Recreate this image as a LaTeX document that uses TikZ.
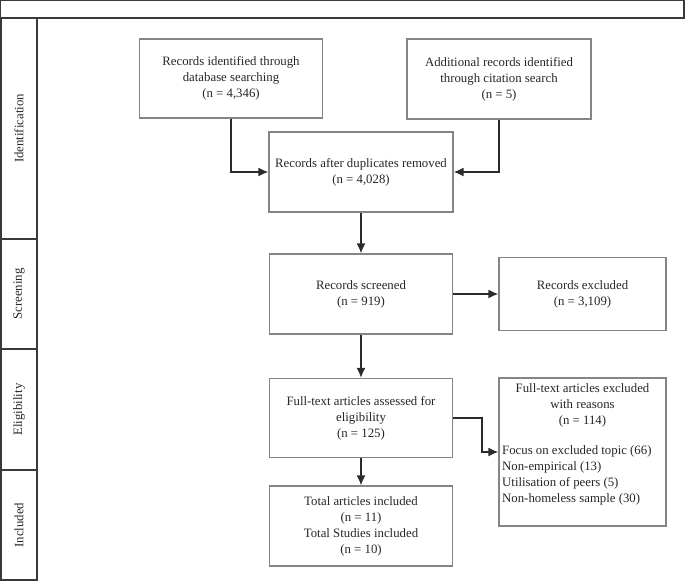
\documentclass[tikz,border=0pt]{standalone}
\usepackage{fontspec}
\setmainfont{Liberation Serif}
\usetikzlibrary{arrows.meta}
\definecolor{boxline}{HTML}{858585}
\definecolor{arrline}{HTML}{2B2B2B}
\definecolor{frameline}{HTML}{3A3A3A}
\tikzset{
  every node/.style={font=\fontsize{12.8}{16}\selectfont, text=black!85},
  flowbox/.style={draw=boxline, line width=1.1pt, rectangle, align=center, inner sep=2pt},
  section/.style={draw=frameline, line width=1.2pt, rectangle, minimum height=36pt, inner sep=0pt, rotate=90},
  arr/.style={draw=arrline, line width=1.8pt, -{Latex[length=10pt,width=9pt]}},
}
\begin{document}
\begin{tikzpicture}[x=1pt,y=-1pt]
\useasboundingbox (0,0) rectangle (685,582);
% top bar
\draw[frameline, line width=1.2pt] (0.6,0.6) rectangle (684,18);
% section column
\node[section, minimum width=221pt] (sid) at (19,128.5) {Identification};
\node[section, minimum width=110pt] (sscr) at (19,294) {Screening};
\node[section, minimum width=121pt] (sel) at (19,409.5) {Eligibility};
\node[section, minimum width=110pt] (sinc) at (19,525) {Included};
% boxes
\node[flowbox, minimum width=183pt, minimum height=79pt] (db) at (231,78.5) {Records identified through\\database searching\\(n = 4,346)};
\node[flowbox, minimum width=184pt, minimum height=80pt] (cit) at (499,79) {Additional records identified\\through citation search\\(n = 5)};
\node[flowbox, minimum width=184pt, minimum height=80pt] (dup) at (361,172) {Records after duplicates removed\\(n = 4,028)};
\node[flowbox, minimum width=183pt, minimum height=80pt] (scr) at (361,294) {Records screened\\(n = 919)};
\node[flowbox, minimum width=167pt, minimum height=73pt] (exc) at (582.5,294) {Records excluded\\(n = 3,109)};
\node[flowbox, minimum width=183pt, minimum height=79pt] (ft) at (361,418) {Full-text articles assessed for\\eligibility\\(n = 125)};
\node[flowbox, minimum width=183pt, minimum height=80pt] (tot) at (361,526) {Total articles included\\(n = 11)\\Total Studies included\\(n = 10)};
\node[flowbox, minimum width=167pt, minimum height=148pt] (rea) at (582.5,452) {};
\node[align=center, inner sep=0pt] (reahead) at (582.5,405) {Full-text articles excluded\\with reasons\\(n = 114)};
\node[align=left, anchor=west, inner sep=0pt] (realist) at (502,475.5) {Focus on excluded topic (66)\\Non-empirical (13)\\Utilisation of peers (5)\\Non-homeless sample (30)};
% connectors
\draw[arr] (db.south) |- (dup.west);
\draw[arr] (cit.south) |- (dup.east);
\draw[arr] (dup.south) -- (scr.north);
\draw[arr] (scr.east) -- (exc.west);
\draw[arr] (scr.south) -- (ft.north);
\draw[arr] (ft.south) -- (tot.north);
\draw[arr] (ft.east) -- ++(29,0) |- (rea.west);
\end{tikzpicture}
\end{document}
